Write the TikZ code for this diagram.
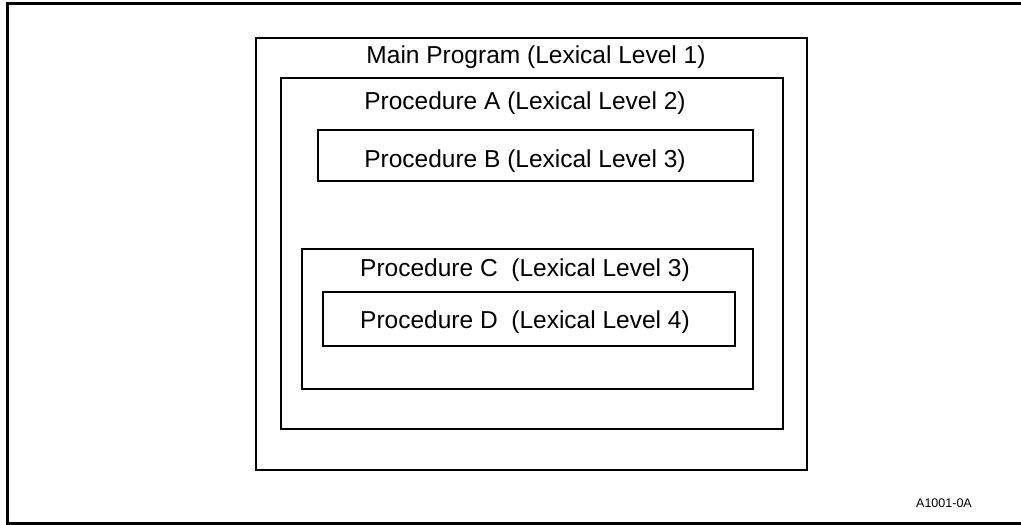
\documentclass[tikz,border=0pt]{standalone}
\usepackage{fontspec}
\setmainfont{Liberation Sans}
\usepackage{tikz}
\usetikzlibrary{positioning}

\begin{document}
\begin{tikzpicture}[
 x=1pt,y=-1pt,
 frame/.style={draw,line width=2pt,anchor=north west,inner sep=0pt},
 lbl/.style={anchor=base,inner sep=0pt,font=\fontsize{24.5}{28}\selectfont}
]
\useasboundingbox (0,0) rectangle (1021,525);
% outer sheet border, open on the right
\draw[line width=3pt] (1040,3) -- (7,3) -- (7,523) -- (1040,523);
% nested scopes
\node[frame,minimum width=551pt,minimum height=432pt] (main) at (255,37) {};
\node[frame,minimum width=502pt,minimum height=351pt] (procA) at (280,77) {};
\node[frame,minimum width=435pt,minimum height=51pt] (procB) at (317,129) {};
\node[frame,minimum width=451pt,minimum height=140pt] (procC) at (301,248) {};
\node[frame,minimum width=412pt,minimum height=54pt] (procD) at (322,291) {};
% labels
\node[lbl] (mainlbl) at (536,63) {Main Program (Lexical Level 1)};
\node[lbl] (procAlbl) at (525,109) {Procedure A (Lexical Level 2)};
\node[lbl] (procBlbl) at (525,167) {Procedure B (Lexical Level 3)};
\node[lbl] (procClbl) at (525,276) {Procedure C~ (Lexical Level 3)};
\node[lbl] (procDlbl) at (525,328) {Procedure D~ (Lexical Level 4)};
\node[anchor=base,inner sep=0pt,font=\fontsize{12.5}{15}\selectfont] (figid) at (944,507) {A1001-0A};
\end{tikzpicture}
\end{document}
